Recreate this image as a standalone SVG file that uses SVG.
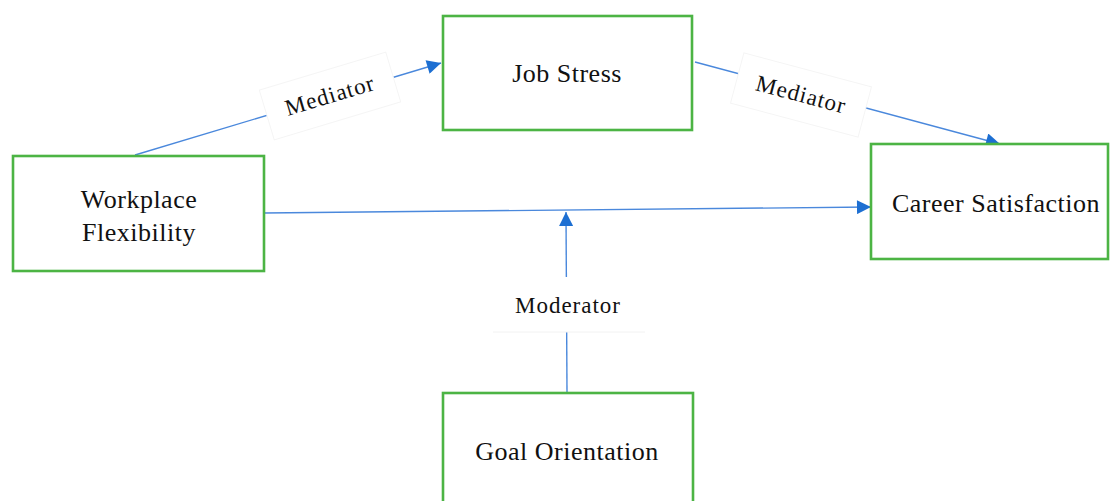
<svg xmlns="http://www.w3.org/2000/svg" width="1110" height="501" viewBox="0 0 1110 501">
<style>
.node rect{fill:#fff;stroke:#4cb444;stroke-width:2.6}
.t{font-family:"Liberation Serif","DejaVu Serif",serif;font-size:26px;letter-spacing:0.5px;fill:#111;text-anchor:middle}
.lbl{font-family:"Liberation Serif","DejaVu Serif",serif;font-size:23px;letter-spacing:1px;fill:#111;text-anchor:middle}
.conn line{stroke:#4a88dc;stroke-width:1.4}
.lb{fill:#fff;stroke:#f5f5f5;stroke-width:1}
</style>
<defs>
<marker id="ah" viewBox="0 0 10 10" refX="10" refY="5" markerWidth="16" markerHeight="14" markerUnits="userSpaceOnUse" orient="auto">
<path d="M0,0 L10,5 L0,10 z" fill="#1d6fd2"/>
</marker>
</defs>
<g id="connectors" class="conn">
<line x1="135" y1="155" x2="441" y2="63" marker-end="url(#ah)"/>
<line x1="695" y1="62" x2="1000" y2="144" marker-end="url(#ah)"/>
<line x1="264" y1="213" x2="871" y2="207" marker-end="url(#ah)"/>
<line x1="567" y1="392" x2="566" y2="212" marker-end="url(#ah)"/>
<g transform="translate(330,96) rotate(-16.7)">
<rect class="lb" x="-66" y="-26" width="132" height="52"/>
<text class="lbl" x="0" y="7">Mediator</text>
</g>
<g transform="translate(801,95) rotate(14.9)">
<rect class="lb" x="-66" y="-26" width="132" height="52"/>
<text class="lbl" x="0" y="7">Mediator</text>
</g>
<rect x="493" y="277" width="152" height="55" style="fill:#fff;stroke:none"/>
<line x1="493" y1="332" x2="645" y2="332" style="stroke:#f2f2f2;stroke-width:1"/>
<text class="lbl" x="568" y="313">Moderator</text>
</g>
<g id="workplace-flexibility" class="node">
<rect x="13" y="156" width="251" height="115"/>
<text class="t" x="139" y="208">Workplace</text>
<text class="t" x="139" y="241">Flexibility</text>
</g>
<g id="job-stress" class="node">
<rect x="443" y="16" width="249" height="114"/>
<text class="t" x="567" y="82">Job Stress</text>
</g>
<g id="career-satisfaction" class="node">
<rect x="871" y="144" width="237" height="115"/>
<text class="t" x="996" y="212">Career Satisfaction</text>
</g>
<g id="goal-orientation" class="node">
<rect x="443" y="393" width="250" height="120"/>
<text class="t" x="567" y="460">Goal Orientation</text>
</g>
</svg>
